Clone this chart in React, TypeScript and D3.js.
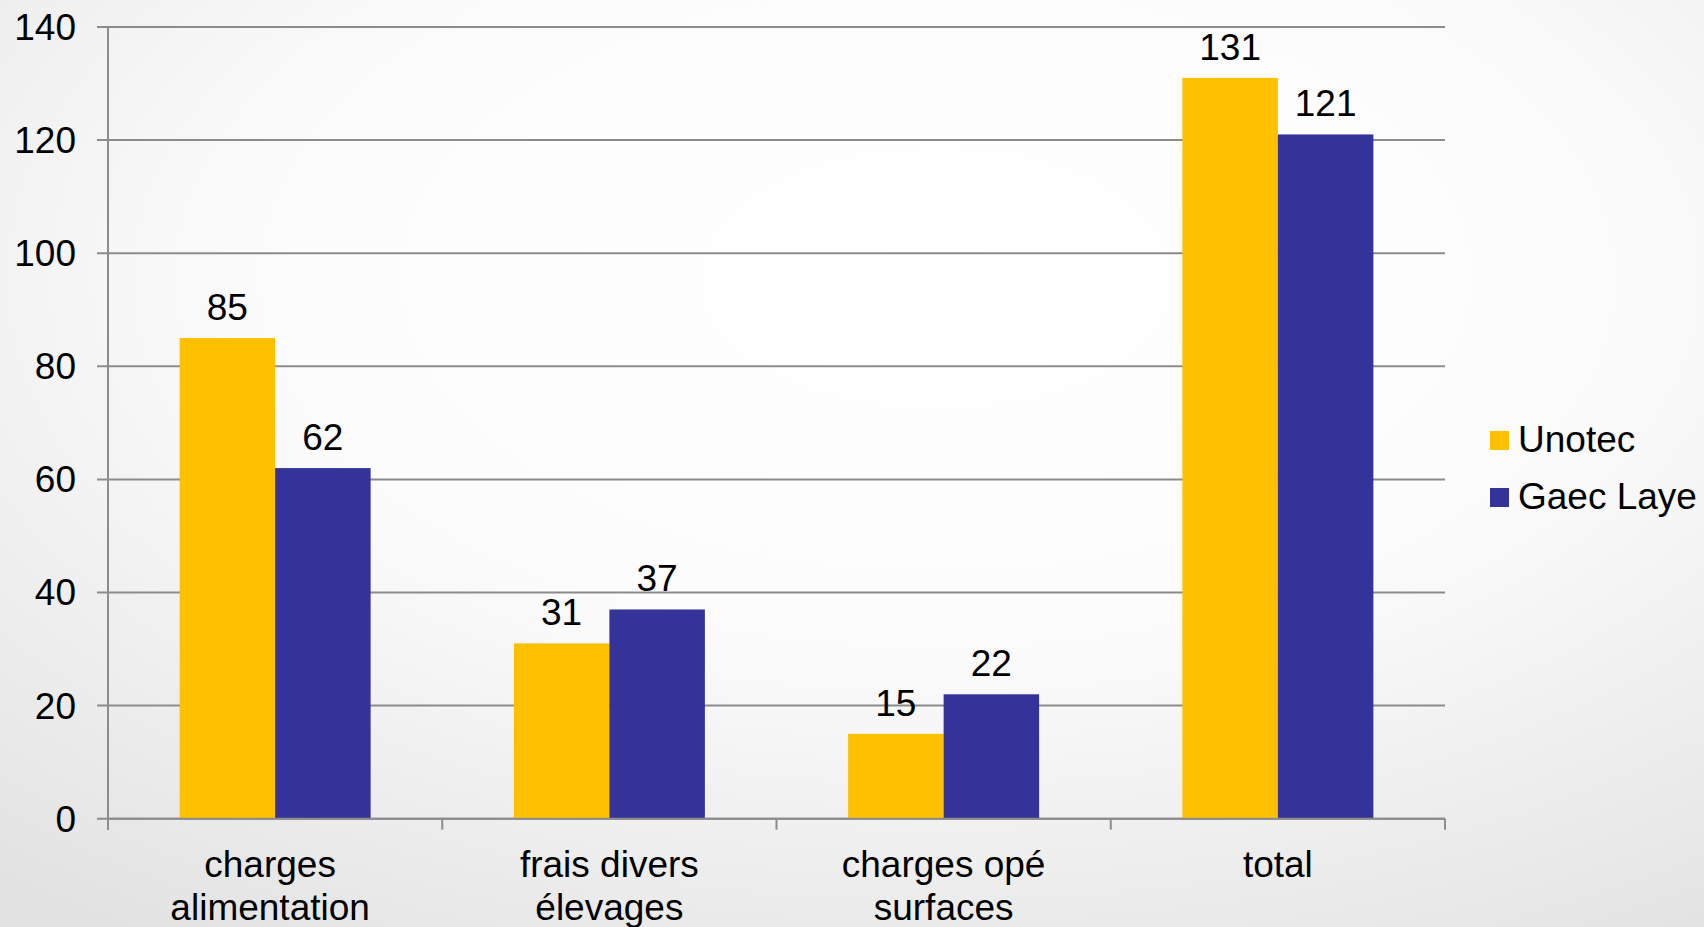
import React from "react";
import * as d3 from "d3";

const categories = ["charges alimentation", "frais divers élevages", "charges opé surfaces", "total"];
const categoryLines = [["charges", "alimentation"], ["frais divers", "élevages"], ["charges opé", "surfaces"], ["total"]];
const seriesNames = ["Unotec", "Gaec Laye"];
const unotec = [85, 31, 15, 131];
const gaecLaye = [62, 37, 22, 121];
const seriesValues = [unotec, gaecLaye];
const seriesColors = ["#FFC000", "#333399"];
const yTicks = [0, 20, 40, 60, 80, 100, 120, 140];

const W = 1704;
const H = 927;
const FONT = "'Liberation Sans', Arial, sans-serif";
const FS = 37;

export default function App() {
  const x = d3.scaleBand<string>().domain(categories).range([108, 1445]).paddingInner(0).paddingOuter(0);
  const xs = d3.scaleBand<string>().domain(seriesNames).range([0, x.bandwidth()]).paddingInner(0).paddingOuter(0.75);
  const y = d3.scaleLinear().domain([0, 140]).range([818.7, 27]);
  const x0 = x.range()[0];
  const x1 = x.range()[1];
  const grid = "#8c8c8c";

  return (
    <svg width={W} height={H} style={{ position: "absolute", left: 0, top: 0, display: "block" }} fontFamily={FONT}>
      <defs>
        <radialGradient id="bg" cx="55%" cy="30%" r="85%" fx="55%" fy="30%">
          <stop offset="0%" stopColor="#ffffff" />
          <stop offset="45%" stopColor="#fcfcfc" />
          <stop offset="100%" stopColor="#e2e2e2" />
        </radialGradient>
      </defs>
      <rect x={0} y={0} width={W} height={H} fill="url(#bg)" />

      {yTicks.map((t) => (
        <g key={t}>
          <line x1={97} x2={x1} y1={y(t)} y2={y(t)} stroke={grid} strokeWidth={2} />
          <text x={76} y={y(t)} dy="0.35em" textAnchor="end" fontSize={FS} fill="#000">
            {t}
          </text>
        </g>
      ))}

      <line x1={x0} x2={x0} y1={y(140)} y2={y(0) + 11} stroke={grid} strokeWidth={2} />

      {[...categories.map((c) => x(c) as number), x1].map((px, i) => (
        <line key={i} x1={px} x2={px} y1={y(0)} y2={y(0) + 11} stroke={grid} strokeWidth={2} />
      ))}

      {categories.map((c, ci) => (
        <g key={c} transform={`translate(${x(c)},0)`}>
          {seriesNames.map((s, si) => {
            const v = seriesValues[si][ci];
            const bx = xs(s) as number;
            return (
              <g key={s}>
                <rect x={bx} y={y(v)} width={xs.bandwidth()} height={y(0) - y(v)} fill={seriesColors[si]} />
                <text x={bx + xs.bandwidth() / 2} y={y(v) - 18} textAnchor="middle" fontSize={FS} fill="#000">
                  {v}
                </text>
              </g>
            );
          })}
        </g>
      ))}

      <line x1={x0} x2={x1} y1={y(0)} y2={y(0)} stroke={grid} strokeWidth={2} />

      {categories.map((c, ci) => (
        <text key={c} textAnchor="middle" fontSize={FS} fill="#000">
          {categoryLines[ci].map((line, li) => (
            <tspan key={li} x={(x(c) as number) + x.bandwidth() / 2 - (ci === 0 ? 5 : 0)} y={877 + li * 43}>
              {line}
            </tspan>
          ))}
        </text>
      ))}

      {seriesNames.map((s, si) => (
        <g key={s}>
          <rect x={1490} y={431 + si * 57} width={19} height={19} fill={seriesColors[si]} />
          <text x={1518} y={452 + si * 57} fontSize={FS} fill="#000">
            {s}
          </text>
        </g>
      ))}
    </svg>
  );
}
